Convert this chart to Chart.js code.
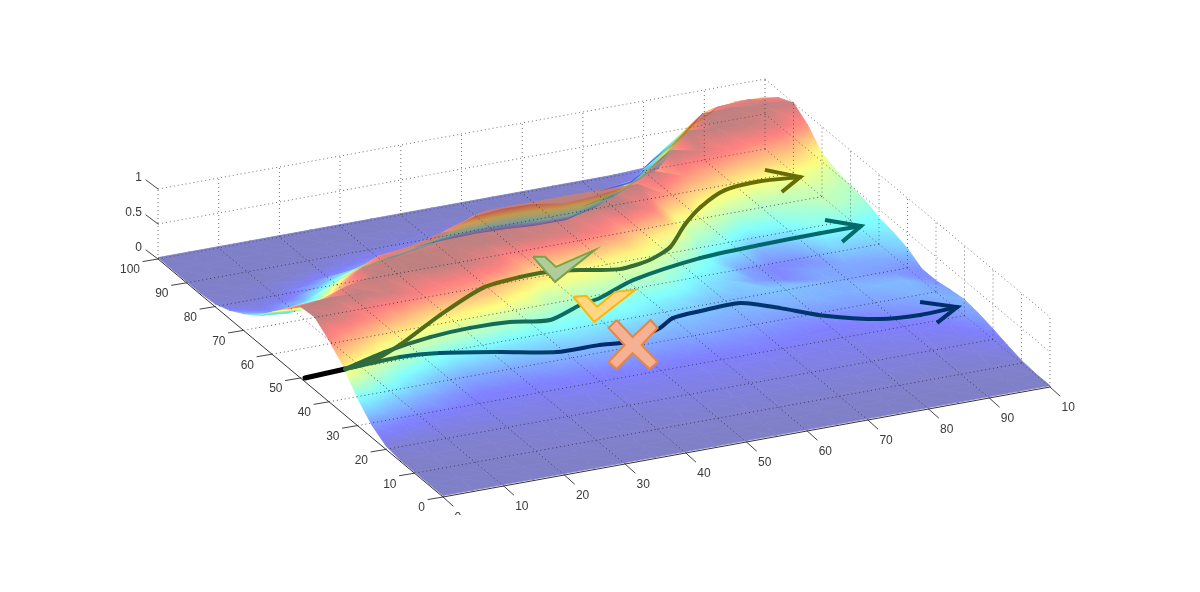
<!DOCTYPE html>
<html>
<head>
<meta charset="utf-8">
<title>Surface with trajectories</title>
<script src="https://cdn.jsdelivr.net/npm/chart.js@4/dist/chart.umd.min.js"></script>
<style>
  html, body { margin: 0; padding: 0; background: #fff; }
  canvas { display: block; }
</style>
</head>
<body>
<canvas id="chart" width="1200" height="592"></canvas>
<script>
// axis ticks
const xTicks = [0, 10, 20, 30, 40, 50, 60, 70, 80, 90, 100];
const yTicks = [0, 10, 20, 30, 40, 50, 60, 70, 80, 90, 100];
const zTicks = [0, 0.5, 1];

// surface samples, one row per x, one column per y
const surfaceXs = [0, 5, 10, 15, 20, 25, 30, 35, 40, 45, 50, 55, 60, 65, 70, 75, 80, 85, 90, 95, 100];
const surfaceYs = [0, 5, 10, 15, 20, 25, 30, 35, 40, 45, 50, 55, 60, 65, 70, 75, 80, 85, 90, 95, 100];
const surfaceHeights = [
  [.02, .02, .02, .02, .05, .18, .39, .68, .88, 1.04, 1.02, .82, .60, .38, .24, .12, .04, .02, .02, .02, .02],
  [.02, .02, .02, .03, .05, .14, .30, .52, .75, .96, 1.07, .80, .56, .34, .18, .08, .03, .02, .02, .02, .02],
  [.02, .02, .02, .03, .05, .10, .22, .38, .60, .85, 1.05, .98, .70, .46, .26, .12, .05, .02, .02, .02, .02],
  [.02, .02, .02, .03, .05, .10, .17, .28, .48, .76, .98, 1.07, 1.00, .72, .44, .24, .10, .03, .02, .02, .02],
  [.02, .02, .03, .03, .06, .09, .13, .22, .40, .65, .90, 1.06, 1.08, .92, .62, .36, .15, .05, .02, .02, .02],
  [.02, .02, .03, .04, .06, .09, .13, .21, .36, .60, .85, 1.03, 1.08, .97, .68, .42, .20, .08, .03, .02, .02],
  [.02, .02, .03, .04, .06, .09, .13, .21, .33, .54, .80, .99, 1.07, 1.08, .80, .52, .25, .10, .03, .02, .02],
  [.02, .02, .03, .04, .07, .10, .14, .22, .32, .48, .68, .92, 1.05, 1.08, .95, .62, .32, .12, .04, .02, .02],
  [.02, .02, .03, .04, .07, .10, .14, .22, .33, .45, .56, .76, 1.00, 1.07, 1.08, .82, .42, .15, .05, .02, .02],
  [.02, .02, .03, .05, .07, .10, .15, .22, .31, .44, .54, .70, .98, 1.07, 1.08, .86, .46, .16, .05, .02, .02],
  [.02, .02, .03, .05, .07, .10, .14, .21, .30, .42, .52, .66, .96, 1.06, 1.08, .85, .45, .15, .05, .02, .02],
  [.02, .02, .03, .05, .07, .10, .14, .20, .27, .36, .48, .60, .88, 1.05, 1.08, .78, .38, .12, .04, .02, .02],
  [.02, .02, .03, .05, .07, .10, .14, .20, .25, .33, .46, .56, .74, 1.02, 1.08, .80, .38, .12, .04, .02, .02],
  [.02, .02, .03, .05, .07, .10, .14, .19, .23, .27, .36, .47, .60, .90, 1.06, .85, .60, .22, .06, .02, .02],
  [.02, .02, .03, .05, .07, .09, .13, .18, .23, .25, .30, .38, .46, .58, .82, 1.00, .72, .42, .12, .03, .02],
  [.02, .02, .03, .05, .07, .09, .12, .17, .23, .27, .20, .20, .38, .52, .66, .85, 1.05, .67, .32, .06, .02],
  [.02, .02, .03, .05, .07, .09, .12, .17, .23, .25, .15, .14, .24, .42, .58, .76, .96, 1.08, .72, .20, .04],
  [.02, .02, .03, .05, .07, .10, .13, .18, .22, .22, .20, .16, .28, .42, .53, .68, .88, 1.04, 1.08, .72, .30],
  [.02, .02, .03, .05, .08, .11, .15, .20, .24, .20, .21, .30, .40, .46, .53, .64, .82, 1.00, 1.08, .93, .68],
  [.02, .02, .03, .06, .09, .13, .18, .23, .24, .18, .22, .30, .40, .50, .54, .62, .78, .96, 1.04, .95, .75],
  [.02, .02, .04, .09, .15, .20, .23, .20, .16, .16, .28, .34, .38, .46, .50, .54, .62, .85, 1.00, .90, .74]
];

// common start of the trajectories
const startX = [0.6, 7.5];
const startY = [49.7, 50.3];

// trajectories on the floor plane, with the colour level under each point
const pathAX = [7.5, 12, 18.8, 29.1, 39.3, 46.1, 51.8, 56.7, 60.9, 66.4, 71.3, 76.8, 81.9, 87.9, 94.1, 100.2];
const pathAY = [50.3, 51.1, 55.2, 63, 69.7, 71.1, 71, 69.2, 67.6, 68.9, 72.1, 78.8, 84, 88.3, 89.2, 88.1];
const pathALevel = [.48, .5, .55, .58, .6, .55, .5, .5, .5, .5, .55, .58, .6, .61, .61, .61];
const pathBX = [7.5, 15.6, 24.2, 31.1, 37.4, 43.2, 49.7, 53.5, 60.9, 73.5, 83.7, 93.8, 100.5];
const pathBY = [50.3, 53.7, 56, 56.7, 56.2, 54.4, 57.7, 58.9, 63, 66.4, 67.2, 67.5, 67.4];
const pathBLevel = [.48, .46, .43, .42, .42, .4, .4, .4, .4, .38, .36, .37, .38];
const pathCX = [7.5, 16.9, 22.9, 31.2, 38.9, 45.9, 50.1, 56.8, 60.1, 65, 71.7, 76.3, 80.5, 88, 94.1, 100.4];
const pathCY = [50.3, 51, 49.9, 46.5, 42.9, 42.7, 42, 44.8, 47.4, 48.1, 48.4, 44.1, 39.2, 34.1, 33, 33.4];
const pathCLevel = [.46, .36, .31, .27, .23, .22, .22, .22, .23, .25, .25, .25, .25, .24, .23, .23];

// arrow heads: barb, tip, barb
const arrowAX = [96.6, 100.2, 95.3];
const arrowAY = [92.8, 88.1, 84.1];
const arrowBX = [96.6, 100.5, 95.4];
const arrowBY = [71.7, 67.4, 63.1];
const arrowCX = [96.2, 100.4, 95.1];
const arrowCY = [37.5, 33.4, 29.2];

// where the marks sit on the floor plane
const checkGoodAt = [52.3, 72.1];
const checkFairAt = [51.7, 56];
const crossAt = [50.3, 40.6];

// view of the box
const view = { ox: 443, oy: 497, xx: 6.07, xy: -2.85, yx: -1.1, yy: -2.38, zz: -70 };
const maxHeight = 1.02;

function project(x, y, z) {
  return {
    x: view.ox + view.xx * x + view.xy * y,
    y: view.oy + view.yx * x + view.yy * y + view.zz * z
  };
}

function clamp01(v) { return Math.max(0, Math.min(1, v)); }

function jet(l) {
  return [
    clamp01(Math.min(4 * l - 1.5, -4 * l + 4.5)),
    clamp01(Math.min(4 * l - 0.5, -4 * l + 3.5)),
    clamp01(Math.min(4 * l + 0.5, -4 * l + 2.5))
  ];
}

// surface colours look 50% see-through on white
function surfaceColor(l) {
  const c = jet(l);
  return 'rgb(' + c.map(v => Math.round(127.5 + v * 127.5)).join(',') + ')';
}

// far side of the ridge showing through the near side
function throughColor(l) {
  const c = jet(l);
  return 'rgba(' + c.map(v => Math.round(v * 200)).join(',') + ',0.4)';
}

function pathColor(l) {
  const c = jet(l);
  return 'rgb(' + c.map(v => Math.round(v * 108)).join(',') + ')';
}

// linear gradient that reproduces the three corner levels of a triangle
function triangleFill(chart, tri) {
  if (tri.fill) return tri.fill;
  const sx = chart.scales.x, sy = chart.scales.y;
  const p = tri.points.map(q => ({ x: sx.getPixelForValue(q.x), y: sy.getPixelForValue(q.y) }));
  const l = tri.levels;
  const mid = tri.color((l[0] + l[1] + l[2]) / 3);
  // scales have no size yet on the first pass
  if (!p.every(q => Number.isFinite(q.x) && Number.isFinite(q.y)) || !chart.chartArea) return mid;
  const ux = p[1].x - p[0].x, uy = p[1].y - p[0].y, vx = p[2].x - p[0].x, vy = p[2].y - p[0].y;
  const du = l[1] - l[0], dv = l[2] - l[0];
  const det = ux * vy - uy * vx;
  const lo = Math.min(l[0], l[1], l[2]), hi = Math.max(l[0], l[1], l[2]);
  if (Math.abs(det) < 1e-6 || hi - lo < 1e-4) {
    tri.fill = mid;
    return mid;
  }
  const a = (du * vy - dv * uy) / det, b = (dv * ux - du * vx) / det;
  const n = a * a + b * b;
  const g = chart.ctx.createLinearGradient(
    p[0].x + a * (lo - l[0]) / n, p[0].y + b * (lo - l[0]) / n,
    p[0].x + a * (hi - l[0]) / n, p[0].y + b * (hi - l[0]) / n
  );
  for (let i = 0; i <= 6; i++) g.addColorStop(i / 6, tri.color(lo + (hi - lo) * i / 6));
  tri.fill = g;
  return g;
}

function triangleDataset(tri, width) {
  return {
    data: tri.points.concat([tri.points[0]]),
    showLine: true,
    fill: 'shape',
    tension: 0,
    pointRadius: 0,
    borderWidth: width,
    borderJoinStyle: 'round',
    backgroundColor: c => triangleFill(c.chart, tri),
    borderColor: c => triangleFill(c.chart, tri)
  };
}

function facesAway(pts) {
  const cross = (pts[1].x - pts[0].x) * (pts[2].y - pts[0].y) - (pts[1].y - pts[0].y) * (pts[2].x - pts[0].x);
  return cross > 0;
}

function surfaceDatasets() {
  const near = [], through = [];
  const corner = (a, b) => project(surfaceXs[a], surfaceYs[b], surfaceHeights[a][b]);
  const level = (a, b) => Math.min(1, surfaceHeights[a][b] / maxHeight);
  const add = (c) => {
    const points = c.map(q => corner(q[0], q[1]));
    const levels = c.map(q => level(q[0], q[1]));
    near.push(triangleDataset({ points, levels, color: surfaceColor }, 0.8));
    // only real back slopes, not the folds along the ridge top
    if (facesAway(points) && Math.min(...levels) < 0.5) {
      through.push(triangleDataset({ points, levels, color: throughColor }, 0));
    }
  };
  // nearest cells first: the first dataset ends up on top
  for (let j = 0; j < surfaceYs.length - 1; j++) {
    for (let i = 0; i < surfaceXs.length - 1; i++) {
      add([[i, j], [i + 1, j], [i, j + 1]]);
      add([[i + 1, j], [i + 1, j + 1], [i, j + 1]]);
    }
  }
  return through.concat(near);
}

function lineDataset(points, color, width, dash) {
  return {
    data: points,
    showLine: true,
    fill: false,
    tension: 0,
    pointRadius: 0,
    spanGaps: false,
    borderColor: color,
    borderWidth: width,
    borderDash: dash || [],
    borderCapStyle: dash ? 'butt' : 'round'
  };
}

// several separate strokes in one dataset
function strokes(list) {
  const pts = [];
  list.forEach(s => { pts.push(s[0], s[1], { x: NaN, y: NaN }); });
  return pts;
}

function gridDatasets() {
  const floor = [], walls = [];
  xTicks.slice(1, -1).forEach(t => floor.push([project(t, 0, 0), project(t, 100, 0)]));
  yTicks.slice(1, -1).forEach(t => floor.push([project(0, t, 0), project(100, t, 0)]));
  xTicks.forEach(t => walls.push([project(t, 100, 0), project(t, 100, 1)]));
  yTicks.slice(0, -1).forEach(t => walls.push([project(100, t, 0), project(100, t, 1)]));
  zTicks.slice(1).forEach(t => {
    walls.push([project(0, 100, t), project(100, 100, t)]);
    walls.push([project(100, 100, t), project(100, 0, t)]);
  });
  walls.push([project(0, 100, 0), project(100, 100, 0)]);
  walls.push([project(100, 100, 0), project(100, 0, 0)]);
  return [
    lineDataset(strokes(floor), 'rgba(35,35,60,0.75)', 1, [1, 3]),
    lineDataset(strokes(walls), 'rgba(70,70,70,0.75)', 1, [1, 3])
  ];
}

function axisDatasets() {
  const ticks = [];
  const off = (p, dx, dy) => ({ x: p.x + dx, y: p.y + dy });
  xTicks.forEach(t => { const p = project(t, 0, 0); ticks.push([p, off(p, 10, 9)]); });
  yTicks.forEach(t => { const p = project(0, t, 0); ticks.push([p, off(p, -15, 2.5)]); });
  zTicks.forEach(t => { const p = project(0, 100, t); ticks.push([p, off(p, -12, -9)]); });
  const axes = [
    [project(0, 100, 0), project(0, 0, 0)],
    [project(0, 0, 0), project(100, 0, 0)]
  ];
  return [
    lineDataset(strokes(axes), '#333', 1),
    lineDataset(strokes(ticks), '#444', 1)
  ];
}

function floorPoints(xs, ys) {
  return xs.map((x, i) => project(x, ys[i], 0));
}

function pathDataset(xs, ys, levels) {
  const d = lineDataset(floorPoints(xs, ys), pathColor(levels[0]), 4);
  d.tension = 0.25;
  d.borderJoinStyle = 'round';
  d.segment = { borderColor: c => pathColor(levels[c.p0DataIndex]) };
  return d;
}

function arrowDataset(xs, ys, level) {
  const d = lineDataset(floorPoints(xs, ys), pathColor(level), 4);
  d.borderCapStyle = 'butt';
  d.borderJoinStyle = 'miter';
  return d;
}

function markDataset(at, outline, fillColor, edgeColor) {
  const c = project(at[0], at[1], 0);
  const pts = outline.map(o => ({ x: c.x + o[0], y: c.y + o[1] }));
  pts.push(pts[0]);
  return {
    data: pts,
    showLine: true,
    fill: 'shape',
    tension: 0,
    pointRadius: 0,
    borderWidth: 2,
    borderJoinStyle: 'miter',
    backgroundColor: fillColor,
    borderColor: edgeColor
  };
}

const checkGoodShape = [[-22, -11], [-10, -11], [1, -1], [40, -18], [0, 14]];
const checkFairShape = [[-24, -10], [-11, -11], [0, 0], [18, -15], [38, -17], [-3, 15]];
const crossShape = [[-16, -25], [0, -8], [18, -25], [25, -17], [9, 0], [25, 17], [17, 24], [0, 8], [-16, 24], [-24, 17], [-8, 0], [-24, -17]];

const datasets = [
  markDataset(crossAt, crossShape, 'rgb(245,177,148)', 'rgb(236,132,62)'),
  markDataset(checkFairAt, checkFairShape, 'rgb(255,214,130)', 'rgb(255,182,10)'),
  markDataset(checkGoodAt, checkGoodShape, 'rgb(176,204,152)', 'rgb(122,163,72)'),
  arrowDataset(arrowAX, arrowAY, pathALevel[pathALevel.length - 1]),
  arrowDataset(arrowBX, arrowBY, pathBLevel[pathBLevel.length - 1]),
  arrowDataset(arrowCX, arrowCY, pathCLevel[pathCLevel.length - 1]),
  pathDataset(pathAX, pathAY, pathALevel),
  pathDataset(pathBX, pathBY, pathBLevel),
  pathDataset(pathCX, pathCY, pathCLevel),
  lineDataset(floorPoints(startX, startY), '#000', 5),
  ...axisDatasets(),
  ...gridDatasets(),
  ...surfaceDatasets()
];

// tick labels, cut off where the picture was cropped
const tickLabels = {
  id: 'tickLabels',
  afterDraw(chart) {
    const { ctx, scales } = chart;
    const put = (text, p, dx, dy, align) => {
      ctx.textAlign = align;
      ctx.fillText(text, scales.x.getPixelForValue(p.x) + dx, scales.y.getPixelForValue(p.y) + dy);
    };
    ctx.save();
    ctx.beginPath();
    ctx.rect(0, 0, 1075, 515);
    ctx.clip();
    ctx.font = '12px "Liberation Sans", Arial, sans-serif';
    ctx.fillStyle = '#3a3a3a';
    ctx.textBaseline = 'middle';
    xTicks.forEach(t => put(String(t), project(t, 0, 0), 11.5, 21, 'left'));
    yTicks.forEach(t => put(String(t), project(0, t, 0), -18, 11, 'right'));
    zTicks.forEach(t => put(String(t), project(0, 100, t), -16, -11, 'right'));
    ctx.restore();
  }
};

new Chart(document.getElementById('chart'), {
  type: 'scatter',
  data: { datasets },
  options: {
    responsive: false,
    animation: false,
    events: [],
    layout: { padding: 0 },
    plugins: { legend: { display: false }, tooltip: { enabled: false } },
    scales: {
      x: { type: 'linear', display: false, min: 0, max: 1200 },
      y: { type: 'linear', display: false, min: 0, max: 592, reverse: true }
    }
  },
  plugins: [tickLabels]
});
</script>
</body>
</html>
